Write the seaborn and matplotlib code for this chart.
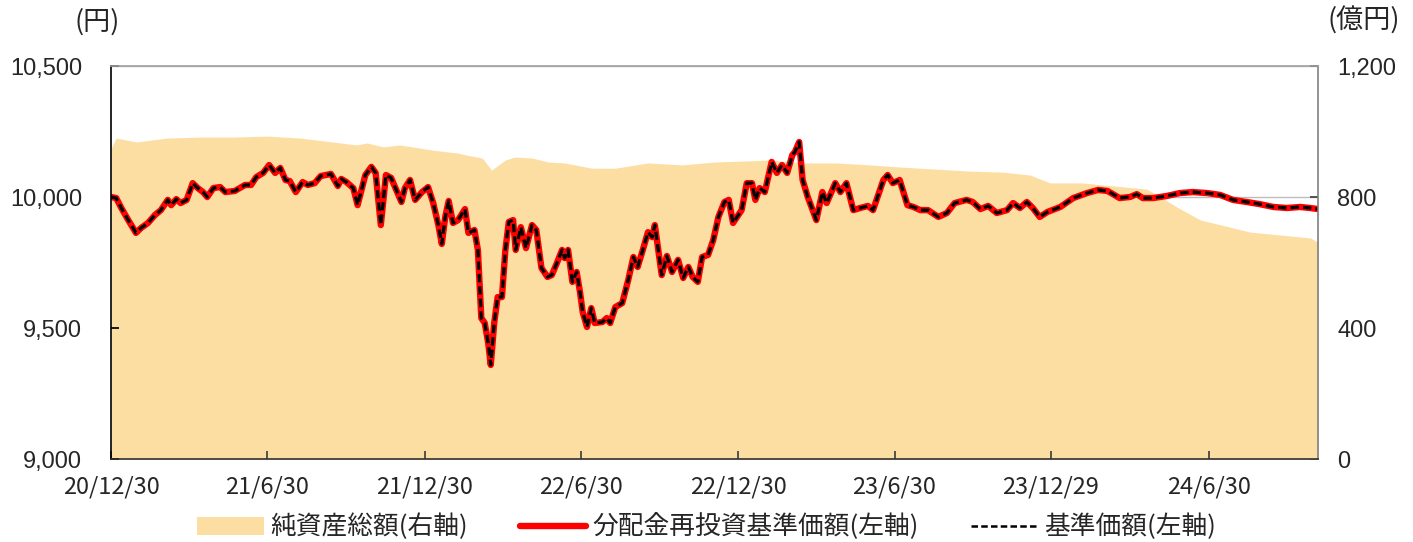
import pandas as pd
import matplotlib.pyplot as plt
from matplotlib.patches import Patch
from matplotlib.lines import Line2D
import seaborn as sns

# 基準価額 (円) - no distributions, so the reinvested series is identical
nav_dates = [
    '2020-12-30', '2021-01-05', '2021-01-11', '2021-01-19', '2021-01-28', '2021-02-03',
    '2021-02-11', '2021-02-19', '2021-02-26', '2021-03-06', '2021-03-10', '2021-03-16',
    '2021-03-21', '2021-03-28', '2021-04-04', '2021-04-10', '2021-04-16', '2021-04-21',
    '2021-04-28', '2021-05-06', '2021-05-12', '2021-05-23', '2021-06-04', '2021-06-11',
    '2021-06-17', '2021-06-25', '2021-07-02', '2021-07-09', '2021-07-15', '2021-07-21',
    '2021-07-26', '2021-08-02', '2021-08-10', '2021-08-16', '2021-08-24', '2021-08-31',
    '2021-09-12', '2021-09-20', '2021-09-24', '2021-09-30', '2021-10-08', '2021-10-13',
    '2021-10-22', '2021-10-29', '2021-11-03', '2021-11-09', '2021-11-15', '2021-11-21',
    '2021-11-27', '2021-12-03', '2021-12-07', '2021-12-13', '2021-12-19', '2021-12-27',
    '2022-01-03', '2022-01-09', '2022-01-15', '2022-01-19', '2022-01-23', '2022-01-27',
    '2022-02-01', '2022-02-07', '2022-02-15', '2022-02-19', '2022-02-26', '2022-03-02',
    '2022-03-06', '2022-03-10', '2022-03-14', '2022-03-17', '2022-03-21', '2022-03-25',
    '2022-03-30', '2022-04-03', '2022-04-07', '2022-04-12', '2022-04-15', '2022-04-21',
    '2022-04-27', '2022-05-04', '2022-05-09', '2022-05-15', '2022-05-22', '2022-05-27',
    '2022-06-02', '2022-06-08', '2022-06-11', '2022-06-15', '2022-06-20', '2022-06-25',
    '2022-06-29', '2022-07-02', '2022-07-07', '2022-07-12', '2022-07-16', '2022-07-25',
    '2022-07-30', '2022-08-03', '2022-08-09', '2022-08-17', '2022-08-24', '2022-08-30',
    '2022-09-04', '2022-09-10', '2022-09-16', '2022-09-21', '2022-09-24', '2022-10-02',
    '2022-10-08', '2022-10-14', '2022-10-21', '2022-10-27', '2022-11-02', '2022-11-07',
    '2022-11-13', '2022-11-18', '2022-11-25', '2022-12-01', '2022-12-07', '2022-12-14',
    '2022-12-19', '2022-12-24', '2023-01-03', '2023-01-09', '2023-01-15', '2023-01-19',
    '2023-01-24', '2023-01-30', '2023-02-07', '2023-02-13', '2023-02-19', '2023-02-25',
    '2023-03-03', '2023-03-06', '2023-03-11', '2023-03-15', '2023-03-21', '2023-03-31',
    '2023-04-07', '2023-04-12', '2023-04-22', '2023-04-28', '2023-05-05', '2023-05-13',
    '2023-05-21', '2023-05-30', '2023-06-05', '2023-06-11', '2023-06-17', '2023-06-22',
    '2023-06-28', '2023-07-06', '2023-07-15', '2023-07-22', '2023-07-30', '2023-08-08',
    '2023-08-20', '2023-08-30', '2023-09-08', '2023-09-22', '2023-09-29', '2023-10-08',
    '2023-10-17', '2023-10-27', '2023-11-08', '2023-11-15', '2023-11-23', '2023-12-01',
    '2023-12-08', '2023-12-16', '2023-12-25', '2024-01-09', '2024-01-24', '2024-02-09',
    '2024-02-22', '2024-03-04', '2024-03-18', '2024-03-30', '2024-04-07', '2024-04-14',
    '2024-04-26', '2024-05-12', '2024-05-27', '2024-06-11', '2024-06-28', '2024-07-13',
    '2024-07-28', '2024-08-13', '2024-08-28', '2024-09-13', '2024-09-29', '2024-10-14',
    '2024-10-26', '2024-11-04',
]
nav_values = [
    10000, 9996, 9958, 9912, 9863, 9882,
    9901, 9931, 9950, 9989, 9969, 9992,
    9977, 9989, 10053, 10034, 10019, 10000,
    10034, 10038, 10019, 10023, 10046, 10046,
    10076, 10092, 10122, 10092, 10111, 10065,
    10061, 10019, 10057, 10046, 10053, 10080,
    10088, 10042, 10069, 10057, 10034, 9969,
    10084, 10115, 10092, 9893, 10084, 10073,
    10027, 9981, 10034, 10065, 9989, 10019,
    10038, 9977, 9893, 9821, 9924, 9985,
    9901, 9912, 9954, 9863, 9874, 9798,
    9538, 9519, 9443, 9359, 9519, 9618,
    9618, 9798, 9905, 9912, 9798, 9885,
    9805, 9893, 9874, 9729, 9695, 9702,
    9748, 9798, 9767, 9798, 9676, 9714,
    9634, 9561, 9504, 9576, 9519, 9523,
    9538, 9519, 9580, 9595, 9683, 9771,
    9733, 9798, 9866, 9847, 9893, 9702,
    9775, 9714, 9760, 9691, 9733, 9695,
    9676, 9771, 9779, 9836, 9924, 9981,
    9989, 9901, 9950, 10053, 10053, 9989,
    10034, 10019, 10134, 10092, 10122, 10092,
    10160, 10172, 10210, 10065, 10000, 9912,
    10019, 9977, 10053, 10019, 10053, 9950,
    9958, 9966, 9950, 10008, 10065, 10084,
    10053, 10065, 9969, 9962, 9950, 9950,
    9924, 9939, 9977, 9989, 9981, 9954,
    9966, 9939, 9950, 9977, 9958, 9981,
    9958, 9924, 9943, 9962, 9996, 10015,
    10027, 10023, 9996, 10000, 10011, 9996,
    9996, 10004, 10015, 10019, 10015, 10008,
    9989, 9981, 9973, 9962, 9958, 9962,
    9958, 9954,
]

# 純資産総額 (億円)
aum_dates = [
    '2020-12-30', '2021-01-05', '2021-01-29', '2021-03-05', '2021-04-13', '2021-05-21',
    '2021-06-30', '2021-08-07', '2021-09-14', '2021-10-12', '2021-10-24', '2021-11-12',
    '2021-12-01', '2022-01-09', '2022-02-07', '2022-02-17', '2022-03-07', '2022-03-18',
    '2022-04-03', '2022-04-14', '2022-05-04', '2022-05-23', '2022-06-11', '2022-07-13',
    '2022-08-09', '2022-09-16', '2022-10-26', '2022-12-03', '2023-01-09', '2023-02-05',
    '2023-03-15', '2023-04-24', '2023-06-01', '2023-07-10', '2023-08-18', '2023-09-26',
    '2023-11-03', '2023-12-05', '2023-12-28', '2024-02-04', '2024-04-19', '2024-05-24',
    '2024-06-20', '2024-08-17', '2024-10-26', '2024-11-04',
]
aum_values = [
    949, 980, 968, 980, 983, 983,
    986, 980, 968, 959, 965, 953,
    959, 943, 934, 928, 919, 882,
    913, 922, 919, 907, 904, 888,
    888, 904, 898, 907, 910, 913,
    904, 904, 898, 891, 885, 879,
    876, 867, 843, 843, 824, 769,
    730, 693, 675, 662,
]

tick_dates = ['2020-12-30', '2021-06-30', '2021-12-30', '2022-06-30',
              '2022-12-30', '2023-06-30', '2023-12-29', '2024-06-30']
tick_labels = ['20/12/30', '21/6/30', '21/12/30', '22/6/30',
               '22/12/30', '23/6/30', '23/12/29', '24/6/30']
left_ticks = [9000, 9500, 10000, 10500]
right_ticks = [0, 400, 800, 1200]

AREA = '#FDDEA2'
RED = '#FF0000'
DASH = (0, (2.6, 1.3))

sns.set_theme(style='white')
plt.rcParams['font.family'] = ['Noto Sans CJK JP', 'DejaVu Sans']

nav = pd.DataFrame({'date': pd.to_datetime(nav_dates), 'nav': nav_values})
aum = pd.DataFrame({'date': pd.to_datetime(aum_dates), 'aum': aum_values})

fig = plt.figure(figsize=(14.13, 5.42), dpi=100)
ax = fig.add_axes([0.0786, 0.1531, 0.8542, 0.7251])
ax_r = ax.twinx()
ax.set_zorder(ax_r.get_zorder() + 1)
ax.patch.set_visible(False)

# right axis: net assets area
ax_r.fill_between(aum['date'], aum['aum'], 0, color=AREA, lw=0, zorder=1)
ax_r.set_ylim(0, 1200)
ax_r.set_yticks(right_ticks, labels=[f'{v:,}' for v in right_ticks])
ax_r.yaxis.grid(True, color='#BDBDBD', lw=1)
ax_r.set_axisbelow(True)
ax_r.tick_params(axis='y', direction='in', length=6, color='#404040',
                 labelsize=17, pad=14)
for lab in ax_r.get_yticklabels():
    lab.set_fontfamily('Liberation Sans')
for s in ax_r.spines.values():
    s.set_visible(False)

# left axis: NAV lines
sns.lineplot(data=nav, x='date', y='nav', ax=ax, color=RED, lw=4.6)
sns.lineplot(data=nav, x='date', y='nav', ax=ax, color='black', lw=2.3,
             linestyle=DASH)
ax.set_ylim(9000, 10500)
ax.set_yticks(left_ticks, labels=[f'{v:,}' for v in left_ticks])
ax.set_xlim(pd.Timestamp('2020-12-30'), pd.Timestamp('2024-11-04'))
ax.set_xticks(pd.to_datetime(tick_dates), labels=tick_labels)
ax.set_xlabel('')
ax.set_ylabel('')
ax.tick_params(axis='y', direction='in', length=6, color='black',
               labelsize=17, pad=21)
ax.tick_params(axis='x', direction='in', length=6, color='#404040',
               labelsize=17, pad=12)
ax.tick_params(bottom=True, left=True)
for lab in ax.get_yticklabels():
    lab.set_fontfamily('Liberation Sans')
ax.spines['left'].set_color('black')
ax.spines['bottom'].set_color('#303030')
ax.spines['top'].set_color('#A0A0A0')
ax.spines['right'].set_color('#808080')
for s in ax.spines.values():
    s.set_linewidth(1.2)

fig.text(97 / 1413, 1 - 22 / 542, '(円)', ha='center', va='center', fontsize=19.5)
fig.text(1364 / 1413, 1 - 21 / 542, '(億円)', ha='center', va='center', fontsize=19.5)

handles = [
    Patch(facecolor=AREA, edgecolor='none'),
    Line2D([], [], color=RED, lw=4.6),
    Line2D([], [], color='black', lw=1.8, linestyle=DASH),
]
labels = ['純資産総額(右軸)', '分配金再投資基準価額(左軸)', '基準価額(左軸)']
fig.legend(handles, labels, loc='lower center', bbox_to_anchor=(0.5, -0.04),
           ncol=3, frameon=False, fontsize=18.5, handlelength=2.6,
           handletextpad=0.25, columnspacing=2.0)

fig.savefig('out.png', dpi=100)
